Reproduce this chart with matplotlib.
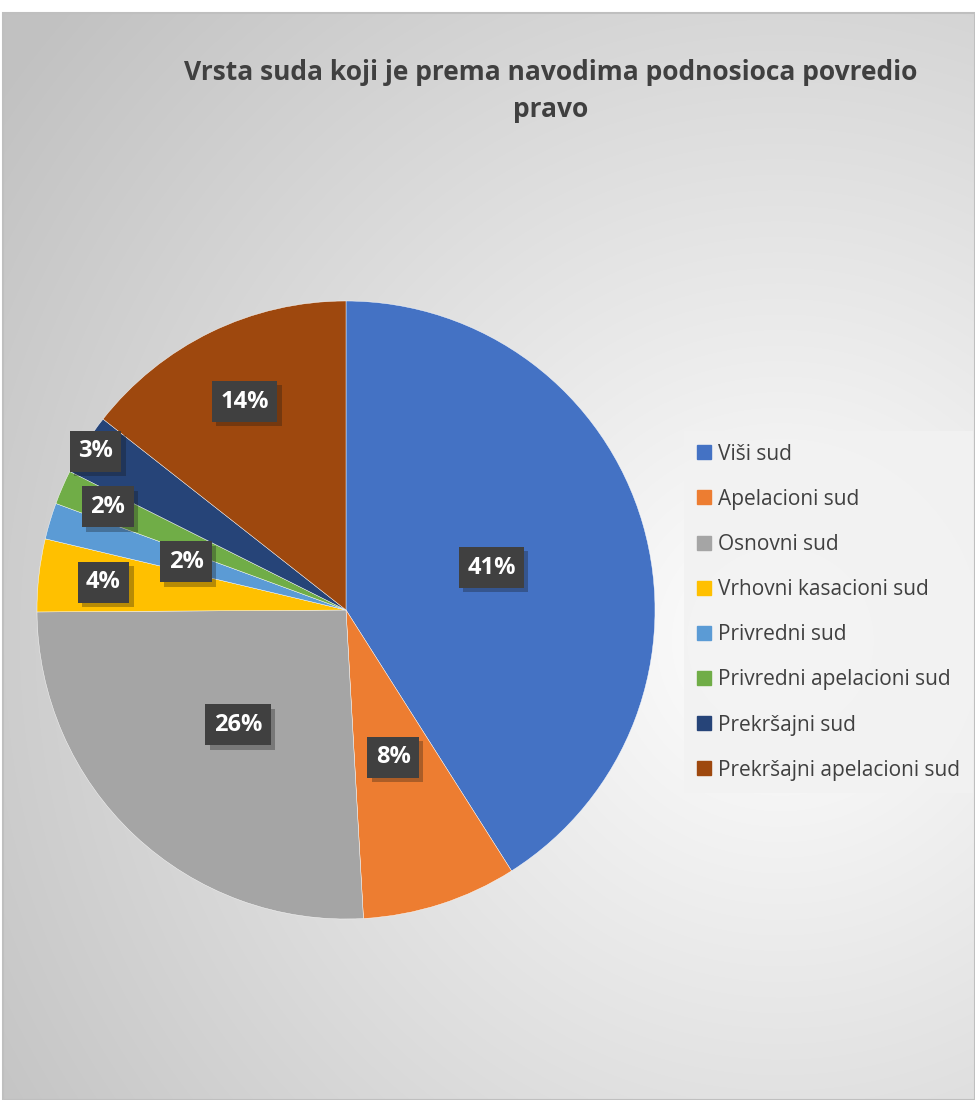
import numpy as np
import matplotlib
matplotlib.use("Agg")
import matplotlib.pyplot as plt
from matplotlib.patches import Rectangle
import matplotlib.patheffects as pe

categories = ["Viši sud", "Apelacioni sud", "Osnovni sud", "Vrhovni kasacioni sud",
              "Privredni sud", "Privredni apelacioni sud", "Prekršajni sud",
              "Prekršajni apelacioni sud"]
values = [41.0, 8.1, 25.8, 3.8, 1.9, 1.8, 3.2, 14.4]
pct_labels = ["41%", "8%", "26%", "4%", "2%", "2%", "3%", "14%"]
colors = ["#4472C4", "#ED7D31", "#A5A5A5", "#FFC000", "#5B9BD5", "#70AD47",
          "#264478", "#9E480E"]
label_dist = [0.49, 0.50, 0.51, 0.79, 0.54, 0.84, 0.96, 0.75]
title = "Vrsta suda koji je prema navodima podnosioca povredio\npravo"

plt.rcParams["hatch.color"] = "#4c4c4c"
plt.rcParams["hatch.linewidth"] = 1.5

W, H = 975, 1100
fig = plt.figure(figsize=(W / 100, H / 100), dpi=100)
fig.patch.set_facecolor("white")

# background radial gradient (chart area)
x0, y0 = 3, 13
bg = fig.add_axes([x0 / W, 0, 1 - x0 / W, 1 - y0 / H])
yy, xx = np.mgrid[y0:H, x0:W]
cx, cy = 780, 640
d = np.sqrt((xx - cx) ** 2 + (yy - cy) ** 2) / 950.0
d = np.clip(d, 0, 1)
g = 1.0 - 0.24 * d ** 1.0
bg.imshow(np.dstack([g, g, g]), aspect="auto", extent=[0, 1, 0, 1], origin="upper")
bg.set_xlim(0, 1)
bg.set_ylim(0, 1)
bg.axis("off")
bg.add_patch(Rectangle((0, 0), 1, 1, transform=bg.transAxes, fill=False,
                       edgecolor="#bfbfbf", lw=1.5, clip_on=False))

# pie
cxp, cyp, R = 346, 610, 309
ax = fig.add_axes([(cxp - R) / W, (H - cyp - R) / H, 2 * R / W, 2 * R / H])
wedges, _ = ax.pie(values, colors=colors, startangle=90, counterclock=False,
                   radius=1.0, wedgeprops=dict(edgecolor="white", linewidth=0.3))
ax.set_xlim(-1, 1)
ax.set_ylim(-1, 1)
ax.axis("off")
for w, lab, dist in zip(wedges, pct_labels, label_dist):
    ang = np.deg2rad((w.theta1 + w.theta2) / 2)
    t = ax.text(dist * np.cos(ang), dist * np.sin(ang), lab, ha="center", va="center",
                fontsize=17, fontweight="bold", color="white", family="Open Sans",
                bbox=dict(boxstyle="square,pad=0.36", facecolor="#404040",
                          edgecolor="none", hatch="."))
    t.get_bbox_patch().set_path_effects([pe.SimplePatchShadow(offset=(3, -3), alpha=0.3),
                                         pe.Normal()])

# title
fig.text(551 / W, 1 - 91 / H, title, ha="center", va="center", fontsize=19,
         fontweight="bold", color="#404040", family="Open Sans", linespacing=1.45)

# legend
handles = [plt.Line2D([], [], marker="s", linestyle="none", markersize=10,
                      markerfacecolor=c, markeredgecolor=c) for c in colors]
leg = fig.legend(handles, categories, loc="upper left",
                 bbox_to_anchor=(684 / W, 1 - 431 / H), frameon=True,
                 prop=dict(family="Open Sans", size=15), labelspacing=1.16,
                 handlelength=0.7, handletextpad=0.35, borderpad=0.6,
                 borderaxespad=0, fancybox=False, labelcolor="#404040")
leg.get_frame().set_facecolor("#f2f2f2")
leg.get_frame().set_edgecolor("none")
leg.get_frame().set_alpha(0.85)

fig.savefig("out.png", dpi=100)
